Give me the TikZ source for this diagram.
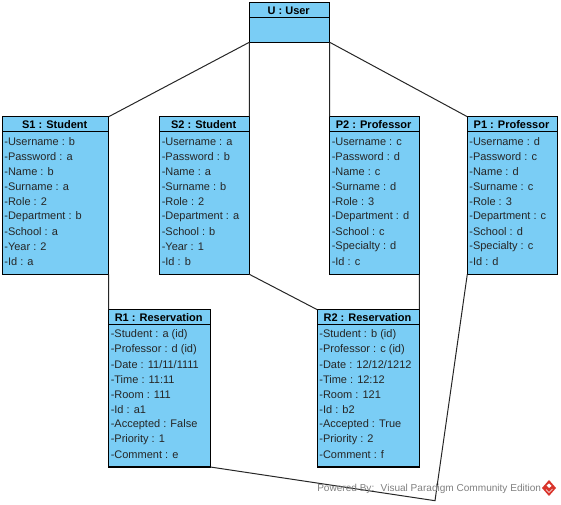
\documentclass[tikz,border=0pt]{standalone}
\usepackage{fontspec}
\setmainfont{Liberation Sans}
\usepackage{xcolor}
\usepackage{tikz}
\usetikzlibrary{positioning,calc}
\definecolor{boxblue}{HTML}{7ACDF5}
\definecolor{logored}{HTML}{D9342B}
\tikzset{
    objbox/.style={draw=black,fill=boxblue,line width=0.8pt,rectangle,inner sep=0pt,outer sep=0pt,anchor=north west},
    objhead/.style={font=\fontsize{8.25}{10}\selectfont\bfseries,text=black,inner sep=0pt},
    objline/.style={font=\fontsize{8.25}{10}\selectfont,text=black!85,inner sep=0pt,anchor=west},
    link/.style={draw=black!85,line width=0.75pt},
}
% name, left, top, width, height, title
\newcommand{\objbox}[6]{
    \node[objbox,minimum width=#4*0.75pt,minimum height=#5*0.75pt] (#1) at (#2,#3) {};
    \node[objhead] (#1head) at ($(#1.north)+(-0.8,8)$) {#6};
    \draw[line width=0.8pt] ($(#1.north west)+(0,14.6)$) -- ($(#1.north east)+(0,14.6)$);
}
% name, lines
\newcommand{\objattrs}[2]{
    \foreach \attr [count=\ci] in {#2} {
        \node[objline] (#1line\ci) at ($(#1.north west)+(1.8,9.7+\ci*15)$) {-\attr};
    }
}
\begin{document}
\begin{tikzpicture}[x=0.75pt,y=-0.75pt]
    \useasboundingbox (0,0) rectangle (561,505);

    \objbox{U}{249.3}{2.7}{80.4}{39.6}{U : User};

    \objbox{S1}{2.3}{116.7}{106.4}{157.6}{S1 : Student};
    \objattrs{S1}{Username : b,Password : a,Name : b,Surname : a,Role : 2,Department : b,School : a,Year : 2,Id : a};
    \objbox{S2}{159.7}{116.7}{89.6}{157.6}{S2 : Student};
    \objattrs{S2}{Username : a,Password : b,Name : a,Surname : b,Role : 2,Department : a,School : b,Year : 1,Id : b};
    \objbox{P2}{329.7}{116.7}{89.6}{157.6}{P2 : Professor};
    \objattrs{P2}{Username : c,Password : d,Name : c,Surname : d,Role : 3,Department : d,School : c,Specialty : d,Id : c};
    \objbox{P1}{467.3}{116.7}{90}{157.6}{P1 : Professor};
    \objattrs{P1}{Username : d,Password : c,Name : d,Surname : c,Role : 3,Department : c,School : d,Specialty : c,Id : d};

    \objbox{R1}{108.7}{309.7}{101.6}{157.3}{R1 : Reservation};
    \objattrs{R1}{Student : a (id),Professor : d (id),Date : 11/11/1111,Time : 11:11,Room : 111,Id : a1,Accepted : False,Priority : 1,Comment : e};
    \objbox{R2}{317.3}{309.7}{102}{157.3}{R2 : Reservation};
    \objattrs{R2}{Student : b (id),Professor : c (id),Date : 12/12/1212,Time : 12:12,Room : 121,Id : b2,Accepted : True,Priority : 2,Comment : f};

    \coordinate (bend) at (435,500.7);
    \draw[link] (U.south west) -- (S1.north east);
    \draw[link] (U.south west) -- (S2.north east);
    \draw[link] (U.south east) -- (P2.north west);
    \draw[link] (U.south east) -- (P1.north west);
    \draw[link] (S1.south east) -- (R1.north west);
    \draw[link] (S2.south east) -- (R2.north west);
    \draw[link] (P2.south east) -- (R2.north east);
    \draw[link] (P1.south west) -- (bend) -- (R1.south east);

    \node[font=\fontsize{7.55}{10}\selectfont,text=black!50,inner sep=0pt,anchor=west] (power) at (317,488.5) {Powered By:\hspace{2pt} Visual Paradigm Community Edition};
    % logo
    \fill[logored] (549,480) -- (556,488) -- (549,496) -- (542,488) -- cycle;
    \fill[white] (546.5,485.5) -- (549,483.5) -- (551.5,486) -- (549,488) -- cycle;
    \draw[white,line width=0.5pt] (546,489.5) -- (549,492.5) -- (552.5,489);
\end{tikzpicture}
\end{document}
